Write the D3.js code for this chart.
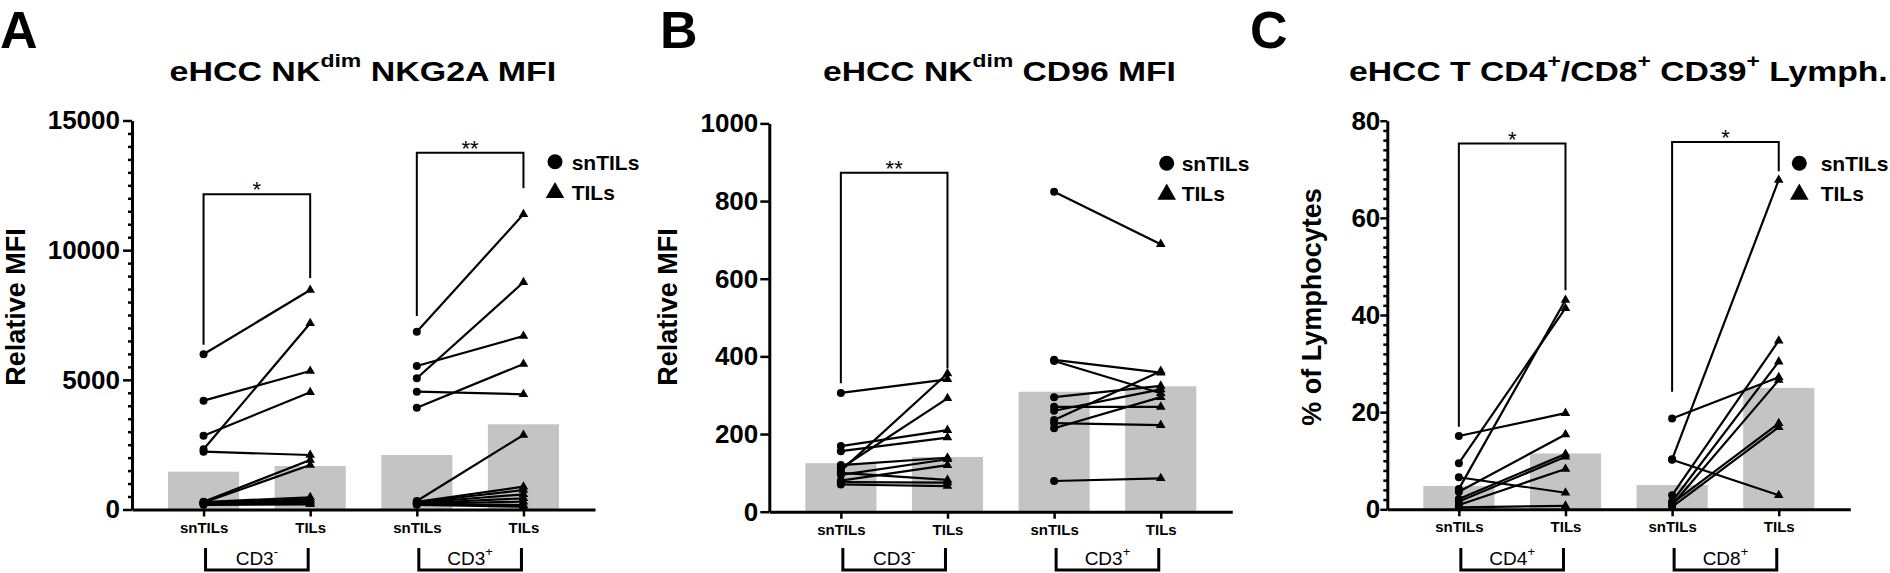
<!DOCTYPE html>
<html>
<head>
<meta charset="utf-8">
<style>
body { margin: 0; background: #fff; }
svg { display: block; background: #fff; font-family: Arial, "Liberation Sans", Helvetica, sans-serif; }
.bar { fill: #c4c4c4; }
.pair { stroke: #000; stroke-width: 2.2; fill: none; }
.sig { stroke: #000; stroke-width: 2; fill: none; }
.grp { stroke: #000; stroke-width: 3; fill: none; }
</style>
</head>
<body>
<svg width="1890" height="573"></svg>
<script src="https://d3js.org/d3.v7.min.js"></script>
<script>

// x categories inside every group
var cats = ["snTILs", "TILs"];

// panel A : eHCC NKdim NKG2A MFI
var aGroups = ["CD3", "CD3"];
var aSigns = ["-", "+"];
var aCd3negSn  = [5984, 4196, 2847, 2321, 2230, 300, 270, 290, 250, 220, 200, 180];
var aCd3negTil = [8464, 5341, 4519, 7180, 2101, 1909, 1716, 470, 393, 328, 262, 200];
var aCd3posSn  = [6856, 5533, 5059, 4543, 3926, 330, 300, 280, 260, 240, 220, 200, 180];
var aCd3posTil = [11383, 6690, 8761, 4442, 5610, 2873, 880, 752, 585, 432, 301, 173, 108];
var aBars = [1458, 1677, 2101, 3285];
var aSigLabel = ["*", "**"];
var aSigTop = [12154, 13758];
var aSigLeft = [6350, 7461];
var aSigRight = [8930, 12386];
var aTicks = [0, 5000, 10000, 15000];

// panel B : eHCC NKdim CD96 MFI
var bGroups = ["CD3", "CD3"];
var bSigns = ["-", "+"];
var bCd3negSn  = [306, 169, 156, 105, 112, 120, 95, 80, 100, 76, 70];
var bCd3negTil = [341, 210, 191, 356, 292, 139, 135, 120, 82, 75, 66];
var bCd3posSn  = [824, 391, 388, 295, 270, 260, 236, 228, 215, 79];
var bCd3posTil = [689, 358, 305, 324, 270, 315, 362, 223, 295, 86];
var bBars = [125, 141, 309, 323];
var bSigLabel = ["**"];
var bSigTop = [873];
var bSigLeft = [331];
var bSigRight = [369];
var bTicks = [0, 200, 400, 600, 800, 1000];

// panel C : eHCC T CD4+/CD8+ CD39+ lymphocytes
var cGroups = ["CD4", "CD8"];
var cSigns = ["+", "+"];
var cCd4Sn  = [15.1, 9.5, 4.2, 6.6, 3.6, 2.1, 1.6, 0.9, 0.4];
var cCd4Til = [19.8, 41.4, 43.1, 3.4, 15.4, 11.4, 10.8, 8.3, 0.7];
var cCd8Sn  = [18.7, 10.3, 10.2, 2.9, 1.6, 0.9, 1.2, 0.5];
var cCd8Til = [27.2, 67.8, 2.9, 34.7, 30.4, 26.6, 17.7, 16.9];
var cBars = [4.8, 11.5, 5.0, 25.0];
var cSigLabel = ["*", "*"];
var cSigTop = [75.3, 75.6];
var cSigLeft = [17.0, 24.2];
var cSigRight = [45.1, 69.6];
var cTicks = [0, 20, 40, 60, 80];

var svg = d3.select("svg");

var panels = [
  { letter: "A", letterX: 0,
    title: [["eHCC NK"], ["dim", 1], [" NKG2A MFI"]], titleX: 169.5, titleW: 387,
    x0: 132, y0: 509.5, yTop: 120.5, max: 15000, ticks: aTicks, minor: 500,
    tickSize: 9, tickPad: 3, yLabel: "Relative MFI", yLabelX: 25,
    groups: aGroups, signs: aSigns,
    sn: [aCd3negSn, aCd3posSn], til: [aCd3negTil, aCd3posTil], bars: aBars,
    sigLabel: aSigLabel, sigTop: aSigTop, sigLeft: aSigLeft, sigRight: aSigRight,
    legX: 555, legY: 161.7, legTextX: 571.7 },
  { letter: "B", letterX: 660,
    title: [["eHCC NK"], ["dim", 1], [" CD96 MFI"]], titleX: 823, titleW: 353,
    x0: 769.3, y0: 511.7, yTop: 123.4, max: 1000, ticks: bTicks, minor: 0,
    tickSize: 9, tickPad: 2, yLabel: "Relative MFI", yLabelX: 677,
    groups: bGroups, signs: bSigns,
    sn: [bCd3negSn, bCd3posSn], til: [bCd3negTil, bCd3posTil], bars: bBars,
    sigLabel: bSigLabel, sigTop: bSigTop, sigLeft: bSigLeft, sigRight: bSigRight,
    legX: 1166.7, legY: 163.3, legTextX: 1181.7 },
  { letter: "C", letterX: 1250,
    title: [["eHCC T CD4"], ["+", 1], ["/CD8"], ["+", 1], [" CD39"], ["+", 1], [" Lymph."]],
    titleX: 1349, titleW: 539,
    x0: 1387.3, y0: 509.3, yTop: 120.7, max: 80, ticks: cTicks, minor: 2,
    tickSize: 7, tickPad: 0, yLabel: "% of Lymphocytes", yLabelX: 1321,
    groups: cGroups, signs: cSigns,
    sn: [cCd4Sn, cCd8Sn], til: [cCd4Til, cCd8Til], bars: cBars,
    sigLabel: cSigLabel, sigTop: cSigTop, sigLeft: cSigLeft, sigRight: cSigRight,
    legX: 1799.3, legY: 163.3, legTextX: 1820.7 }
];

var keys = ["0s", "0t", "1s", "1t"];
var tri = d3.symbol().type(d3.symbolTriangle);

function drawPanel(p) {
  var g = svg.append("g");

  var y = d3.scaleLinear().domain([0, p.max]).range([p.y0, p.yTop]);
  var x = d3.scalePoint().domain(keys).range([p.x0, p.x0 + 463]).padding(0.671);
  var bw = x.step() * 0.667;

  // panel letter
  g.append("text").attr("x", p.letterX).attr("y", 47.5)
    .attr("font-size", 52).attr("font-weight", "bold").text(p.letter);

  // title, stretched to the width it has in the figure
  var t = g.append("text").attr("font-size", 28).attr("font-weight", "bold");
  var up = 0;
  p.title.forEach(function(part) {
    var ts = t.append("tspan").text(part[0]);
    if (part[1]) { ts.attr("font-size", 19).attr("dy", -14); up = 1; }
    else if (up) { ts.attr("dy", 14); up = 0; }
  });
  var tw = t.node().getBBox().width;
  t.attr("transform", "translate(" + p.titleX + ",80.5) scale(" + (p.titleW / tw) + ",1)");

  // bars
  g.selectAll(".bar").data(p.bars).enter().append("rect")
    .attr("class", "bar")
    .attr("x", function(d, i) { return x(keys[i]) - bw / 2; })
    .attr("width", bw)
    .attr("y", function(d) { return y(d); })
    .attr("height", function(d) { return p.y0 - y(d); });

  // y axis, minor ticks first
  if (p.minor) {
    var minor = d3.range(0, p.max + 0.001, p.minor).filter(function(v) { return p.ticks.indexOf(v) < 0; });
    var gm = g.append("g").attr("transform", "translate(" + p.x0 + ",0)")
      .call(d3.axisLeft(y).tickValues(minor).tickSize(4).tickSizeOuter(0).tickFormat(""));
    gm.select(".domain").remove();
    gm.selectAll(".tick line").attr("stroke-width", 2.5);
  }
  var gy = g.append("g").attr("transform", "translate(" + p.x0 + ",0)")
    .call(d3.axisLeft(y).tickValues(p.ticks).tickSize(p.tickSize).tickSizeOuter(0)
      .tickPadding(p.tickPad).tickFormat(d3.format("d")));
  gy.attr("font-family", null).attr("font-size", null);
  gy.select(".domain").attr("stroke-width", 3);
  gy.selectAll(".tick line").attr("stroke-width", 2.5);
  gy.selectAll(".tick text").attr("font-size", 26).attr("font-weight", "bold").attr("fill", "#000");

  g.append("text")
    .attr("transform", "translate(" + p.yLabelX + ",307) rotate(-90)")
    .attr("text-anchor", "middle").attr("font-size", 27).attr("font-weight", "bold")
    .text(p.yLabel);

  // x axis
  var gx = g.append("g").attr("transform", "translate(0," + p.y0 + ")")
    .call(d3.axisBottom(x).tickSize(7).tickSizeOuter(0)
      .tickFormat(function(d) { return d[1] === "s" ? cats[0] : cats[1]; }));
  gx.attr("font-family", null).attr("font-size", null);
  gx.select(".domain").attr("stroke-width", 3);
  gx.selectAll(".tick line").attr("stroke-width", 2.5);
  gx.selectAll(".tick text").attr("y", 23).attr("dy", 0)
    .attr("font-size", 15).attr("font-weight", "bold").attr("fill", "#000");

  // paired lines and markers
  p.groups.forEach(function(name, gi) {
    var ks = gi + "s", kt = gi + "t";
    var pairs = p.sn[gi].map(function(v, i) { return [v, p.til[gi][i]]; });
    var pg = g.append("g");
    pg.selectAll("line").data(pairs).enter().append("line")
      .attr("class", "pair")
      .attr("x1", x(ks)).attr("y1", function(d) { return y(d[0]); })
      .attr("x2", x(kt)).attr("y2", function(d) { return y(d[1]); });
    pg.selectAll("circle").data(pairs).enter().append("circle")
      .attr("cx", x(ks)).attr("cy", function(d) { return y(d[0]); }).attr("r", 4);
    pg.selectAll("path.tri").data(pairs).enter().append("path")
      .attr("class", "tri")
      .attr("d", tri.size(40))
      .attr("transform", function(d) { return "translate(" + x(kt) + "," + y(d[1]) + ")"; });

    // significance bracket
    if (gi < p.sigLabel.length) {
      g.append("path").attr("class", "sig")
        .attr("d", "M" + x(ks) + "," + y(p.sigLeft[gi]) + "V" + y(p.sigTop[gi]) +
                   "H" + x(kt) + "V" + y(p.sigRight[gi]));
      g.append("text").attr("x", (x(ks) + x(kt)) / 2).attr("y", y(p.sigTop[gi]) + 3)
        .attr("text-anchor", "middle").attr("font-size", 22).text(p.sigLabel[gi]);
    }

    // group bracket under the axis
    g.append("path").attr("class", "grp")
      .attr("d", "M" + (x(ks) + 2) + ",548V570H" + (x(kt) - 2) + "V548");
    var gl = g.append("text").attr("x", (x(ks) + x(kt)) / 2).attr("y", 565)
      .attr("text-anchor", "middle").attr("font-size", 19);
    gl.append("tspan").text(name);
    gl.append("tspan").attr("font-size", 13).attr("dy", -9).text(p.signs[gi]);
  });

  // legend
  var lg = g.append("g");
  lg.append("circle").attr("cx", p.legX).attr("cy", p.legY).attr("r", 7.5);
  lg.append("path").attr("d", tri.size(150))
    .attr("transform", "translate(" + p.legX + "," + (p.legY + 31) + ")");
  lg.selectAll("text").data(cats).enter().append("text")
    .attr("x", p.legTextX)
    .attr("y", function(d, i) { return p.legY + 8 + i * 30; })
    .attr("font-size", 21).attr("font-weight", "bold")
    .text(function(d) { return d; });
}

panels.forEach(drawPanel);

</script>
</body>
</html>
